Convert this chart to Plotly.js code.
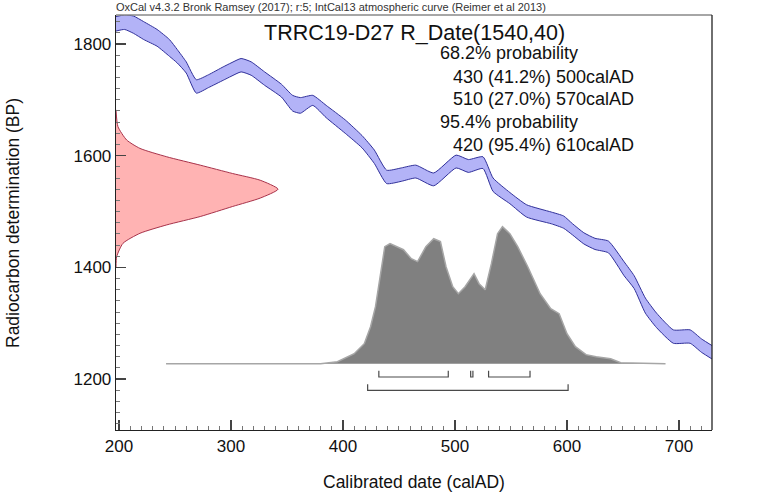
<!DOCTYPE html>
<html>
<head>
<meta charset="utf-8">
<script src="https://cdn.plot.ly/plotly-3.0.1.min.js"></script>
<style>html,body{margin:0;padding:0;background:#fff;}#chart{width:782px;height:495px;}</style>
</head>
<body>
<div id="chart"></div>
<script>
// Calibration curve (IntCal13) band
const curveYears = [197, 205, 213, 222, 234, 245, 252, 260, 269, 280, 293, 300, 309, 318, 330, 345, 355, 362, 373, 385, 402, 417, 428, 439, 452, 465, 481, 501, 512, 525, 534, 549, 564, 586, 597, 605, 615, 625, 637, 651, 660, 670, 680, 695, 710, 720, 731];
const curveUpper = [1849, 1852, 1850, 1840, 1826, 1808, 1790, 1768, 1736, 1745, 1759, 1766, 1774, 1768, 1750, 1728, 1708, 1704, 1708, 1690, 1664, 1636, 1610, 1574, 1578, 1583, 1569, 1601, 1593, 1598, 1560, 1534, 1512, 1499, 1492, 1478, 1462, 1452, 1447, 1410, 1385, 1345, 1318, 1288, 1288, 1272, 1258];
const curveLower = [1823, 1826, 1819, 1808, 1796, 1778, 1766, 1748, 1712, 1722, 1735, 1742, 1750, 1744, 1726, 1705, 1680, 1676, 1690, 1668, 1640, 1614, 1586, 1550, 1554, 1560, 1546, 1578, 1570, 1577, 1536, 1514, 1490, 1478, 1470, 1458, 1442, 1432, 1426, 1385, 1362, 1318, 1292, 1264, 1264, 1248, 1234];

// Radiocarbon date R_Date(1540,40): relative density vs BP
const dateBP = [1682, 1652, 1628, 1613, 1598, 1583, 1568, 1556, 1540, 1524, 1509, 1491, 1476, 1461, 1443, 1419, 1400];
const dateDensity = [0, 0.012, 0.066, 0.148, 0.313, 0.52, 0.72, 0.89, 1, 0.89, 0.72, 0.52, 0.313, 0.148, 0.043, 0.004, 0];

// Calibrated probability distribution (relative)
const calYears = [242, 380, 395, 410, 419, 424.6, 429, 433.7, 437.3, 442, 454, 461, 466.6, 474, 481, 487, 492, 498, 503, 509, 517, 521.5, 527, 532.5, 538, 542.4, 549, 556, 565, 576, 585.5, 593, 600, 607.5, 617, 626, 639, 648, 688];
const calProb = [0, 0, 0.015, 0.073, 0.146, 0.27, 0.416, 0.686, 0.854, 0.876, 0.832, 0.766, 0.745, 0.854, 0.912, 0.891, 0.708, 0.562, 0.511, 0.562, 0.657, 0.584, 0.54, 0.73, 0.949, 1, 0.949, 0.854, 0.708, 0.511, 0.401, 0.365, 0.219, 0.124, 0.066, 0.051, 0.036, 0.007, 0];

// Ranges (brackets)
const range68 = [[432, 494], [514, 516], [530, 567]];
const range95 = [[422, 601]];

// Texts
const headerText = "OxCal v4.3.2 Bronk Ramsey (2017); r:5; IntCal13 atmospheric curve (Reimer et al 2013)";
const titleText = "TRRC19-D27 R_Date(1540,40)";
const probLines = ["68.2% probability", "430 (41.2%) 500calAD", "510 (27.0%) 570calAD", "95.4% probability", "420 (95.4%) 610calAD"];
const probIndent = [false, true, true, false, true];
const xTickVals = [200, 300, 400, 500, 600, 700];
const yTickVals = [1200, 1400, 1600, 1800];

const FONT = "Liberation Sans, Arial, Helvetica, sans-serif";
const W = 782, H = 495, L = 116, R = 70, T = 15, B = 65;
const PW = W - L - R, PH = H - T - B;
const px2fx = p => (p - L) / PW;
const px2fy = p => (H - B - p) / PH;

const traces = [];
traces.push({x: curveYears, y: curveLower, type: 'scatter', mode: 'lines',
  line: {color: '#30309a', width: 1, shape: 'spline', smoothing: 0.5}, hoverinfo: 'skip', showlegend: false});
traces.push({x: curveYears, y: curveUpper, type: 'scatter', mode: 'lines', fill: 'tonexty',
  fillcolor: '#b3b3f7', line: {color: '#30309a', width: 1, shape: 'spline', smoothing: 0.5}, hoverinfo: 'skip', showlegend: false});

traces.push({x: dateDensity, y: dateBP, xaxis: 'x2', yaxis: 'y', type: 'scatter', mode: 'lines', fill: 'tozerox',
  fillcolor: '#ffb3b3', line: {color: '#a8324a', width: 1, shape: 'spline', smoothing: 0.6}, hoverinfo: 'skip', showlegend: false});

traces.push({x: calYears, y: calProb, xaxis: 'x', yaxis: 'y2', type: 'scatter', mode: 'lines', fill: 'tozeroy',
  fillcolor: '#808080', line: {color: '#a6a6a6', width: 1.5}, hoverinfo: 'skip', showlegend: false});

// brackets
const lvl68 = -0.097, tick68 = -0.052, lvl95 = -0.194, tick95 = -0.150;
function bracket(r, lvl, tk) {
  return {x: [r[0], r[0], r[1], r[1]], y: [tk, lvl, lvl, tk], xaxis: 'x', yaxis: 'y2', type: 'scatter', mode: 'lines',
    line: {color: '#4a4a4a', width: 1.2}, hoverinfo: 'skip', showlegend: false};
}
range68.forEach(r => traces.push(bracket(r, lvl68, tick68)));
range95.forEach(r => traces.push(bracket(r, lvl95, tick95)));

const annotations = [];
annotations.push({text: headerText, xref: 'paper', yref: 'paper', x: px2fx(114), y: px2fy(7), xanchor: 'left', yanchor: 'middle',
  showarrow: false, font: {family: FONT, size: 11, color: '#333'}});
annotations.push({text: titleText, xref: 'paper', yref: 'paper', x: px2fx(414.6), y: px2fy(33), xanchor: 'center', yanchor: 'middle',
  showarrow: false, font: {family: FONT, size: 21.5, color: '#111'}});
const lineY = [53.3, 76.7, 99.3, 121.7, 145];
probLines.forEach((t, i) => {
  annotations.push({text: t, xref: 'paper', yref: 'paper', x: px2fx(probIndent[i] ? 450.5 : 438), y: px2fy(lineY[i]),
    xanchor: 'left', yanchor: 'middle', showarrow: false, font: {family: FONT, size: 18, color: '#111'}});
});
annotations.push({text: 'Calibrated date (calAD)', xref: 'paper', yref: 'paper', x: 0.5, y: px2fy(481.5), xanchor: 'center', yanchor: 'middle',
  showarrow: false, font: {family: FONT, size: 17.5, color: '#111'}});
annotations.push({text: 'Radiocarbon determination (BP)', xref: 'paper', yref: 'paper', x: px2fx(12.5), y: 0.5, xanchor: 'center', yanchor: 'middle',
  textangle: -90, showarrow: false, font: {family: FONT, size: 17.5, color: '#111'}});

const layout = {
  width: W, height: H, margin: {l: L, r: R, t: T, b: B, pad: 0},
  paper_bgcolor: '#fff', plot_bgcolor: '#fff', showlegend: false,
  font: {family: FONT, color: '#111'},
  xaxis: {range: [197.3, 729.5], tickvals: xTickVals, ticks: 'inside', ticklen: 10, tickwidth: 1.2, tickcolor: '#444',
    showline: true, linecolor: '#222', linewidth: 1.3, showgrid: false, zeroline: false,
    tickfont: {family: FONT, size: 17, color: '#111'},
    minor: {dtick: 10, tick0: 200, ticks: 'inside', ticklen: 4, tickcolor: '#777', tickwidth: 1, showgrid: false}},
  yaxis: {range: [1108.7, 1851.9], tickvals: yTickVals, ticks: 'inside', ticklen: 10, tickwidth: 1.2, tickcolor: '#444',
    showline: true, linecolor: '#222', linewidth: 1.3, showgrid: false, zeroline: false,
    tickfont: {family: FONT, size: 17, color: '#111'},
    minor: {dtick: 20, tick0: 1200, ticks: 'inside', ticklen: 4, tickcolor: '#777', tickwidth: 1, showgrid: false}},
  xaxis2: {overlaying: 'x', anchor: 'y', range: [0, PW / 162], visible: false, fixedrange: true},
  yaxis2: {overlaying: 'y', anchor: 'x', range: [-66.3 / 137, (H - B - 66.3 - T) / 137], visible: false, fixedrange: true},
  shapes: [
    {type: 'line', xref: 'paper', yref: 'paper', x0: 0, x1: 1, y0: 1, y1: 1, line: {color: '#888', width: 1.3}},
    {type: 'line', xref: 'paper', yref: 'paper', x0: 1, x1: 1, y0: 0, y1: 1, line: {color: '#222', width: 1.3}}
  ],
  annotations: annotations
};

Plotly.newPlot('chart', traces, layout, {displayModeBar: false, staticPlot: true});
</script>
</body>
</html>
